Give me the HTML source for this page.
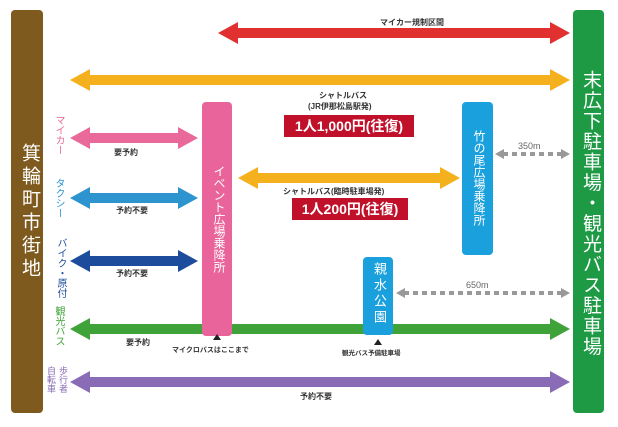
<!DOCTYPE html>
<html><head><meta charset="utf-8"><style>
body{margin:0;width:618px;height:427px;background:#fff;position:relative;overflow:hidden;font-family:"Liberation Sans","Noto Sans CJK JP",sans-serif}
.v{position:absolute;writing-mode:vertical-rl;text-orientation:upright;line-height:1;}
.t{position:absolute;font-size:8px;font-weight:bold;color:#333;white-space:nowrap;}
.r{position:absolute;background:#c0102a;color:#fff;font-weight:bold;font-size:14px;line-height:22px;text-align:center;}
</style></head><body>
<svg width="618" height="427" style="position:absolute;left:0;top:0">
<rect x="11" y="10" width="32" height="403" rx="4" fill="#7f5a1e"/>
<rect x="573" y="10" width="31" height="403" rx="4" fill="#1e9a45"/>
<polygon fill="#e03030" points="218,33 238,22 238,28 550,28 550,22 570,33 550,44 550,38 238,38 238,44"/>
<polygon fill="#f5b01e" points="70,80 90,69 90,75 550,75 550,69 570,80 550,91 550,85 90,85 90,91"/>
<polygon fill="#e8699a" points="70,138 90,127 90,133 178,133 178,127 198,138 178,149 178,143 90,143 90,149"/>
<polygon fill="#2e94cf" points="70,198 90,187 90,193 178,193 178,187 198,198 178,209 178,203 90,203 90,209"/>
<polygon fill="#1d4c9c" points="70,261 90,250 90,256 178,256 178,250 198,261 178,272 178,266 90,266 90,272"/>
<polygon fill="#f5b01e" points="238,178 258,167 258,173 440,173 440,167 460,178 440,189 440,183 258,183 258,189"/>
<polygon fill="#3fa33a" points="70,329 90,318 90,324 550,324 550,318 570,329 550,340 550,334 90,334 90,340"/>
<polygon fill="#8a6bb5" points="70,382 90,371 90,377 550,377 550,371 570,382 550,393 550,387 90,387 90,393"/>
<rect x="202" y="102" width="30" height="234" rx="4" fill="#e8649a"/>
<rect x="462" y="102" width="31" height="153" rx="4" fill="#1aa0dc"/>
<rect x="363" y="257" width="30" height="78" rx="4" fill="#1aa0dc"/>
<line x1="503" y1="154" x2="562" y2="154" stroke="#999" stroke-width="4" stroke-dasharray="5,4"/>
<polygon fill="#999" points="495,154 504,149 504,159"/><polygon fill="#999" points="570,154 561,149 561,159"/>
<line x1="404" y1="293" x2="562" y2="293" stroke="#999" stroke-width="4" stroke-dasharray="5,4"/>
<polygon fill="#999" points="396,293 405,288 405,298"/><polygon fill="#999" points="570,293 561,288 561,298"/>
<polygon fill="#222" points="217,334 213,340 221,340"/>
<polygon fill="#222" points="378,339 374,345 382,345"/>
</svg>
<div class="v" style="left:17px;top:143px;font-size:19px;color:#fff;width:22px;letter-spacing:4px">箕輪町市街地</div>
<div class="v" style="left:578px;top:70px;font-size:19px;color:#fff;width:22px;letter-spacing:1.5px">末広下駐車場・観光バス駐車場</div>
<div class="v" style="left:209px;top:165px;font-size:12px;color:#fff;width:16px">イベント広場乗降所</div>
<div class="v" style="left:469px;top:130px;font-size:12px;color:#fff;width:16px">竹の尾広場乗降所</div>
<div class="v" style="left:369px;top:262px;font-size:13px;color:#fff;width:17px;letter-spacing:3px">親水公園</div>
<div class="v" style="left:51px;top:115px;font-size:10px;color:#e8699a;width:12px">マイカー</div>
<div class="v" style="left:51px;top:178px;font-size:10px;color:#2e94cf;width:12px">タクシー</div>
<div class="v" style="left:53px;top:238px;font-size:10px;color:#1d4c9c;width:12px">バイク・原付</div>
<div class="v" style="left:51px;top:306px;font-size:10px;color:#3fa33a;width:12px">観光バス</div>
<div class="v" style="left:45px;top:366px;height:30px;font-size:9px;color:#8a6bb5;width:24px;line-height:12px">歩行者自転車</div>
<div class="t" style="left:380px;top:17px">マイカー規制区間</div>
<div class="t" style="left:319px;top:90px">シャトルバス</div>
<div class="t" style="left:308px;top:101px">(JR伊那松島駅発)</div>
<div class="r" style="left:284px;top:115px;width:130px">1人1,000円(往復)</div>
<div class="t" style="left:283px;top:186px">シャトルバス(臨時駐車場発)</div>
<div class="r" style="left:292px;top:198px;width:116px">1人200円(往復)</div>
<div class="t" style="left:114px;top:147px">要予約</div>
<div class="t" style="left:116px;top:205px">予約不要</div>
<div class="t" style="left:116px;top:268px">予約不要</div>
<div class="t" style="left:126px;top:337px">要予約</div>
<div class="t" style="left:172px;top:345px;font-size:7px">マイクロバスはここまで</div>
<div class="t" style="left:342px;top:347px;font-size:6.5px">観光バス予備駐車場</div>
<div class="t" style="left:300px;top:391px">予約不要</div>
<div class="t" style="left:518px;top:141px;font-weight:normal;color:#666;font-size:9px">350m</div>
<div class="t" style="left:466px;top:280px;font-weight:normal;color:#666;font-size:9px">650m</div>
</body></html>
